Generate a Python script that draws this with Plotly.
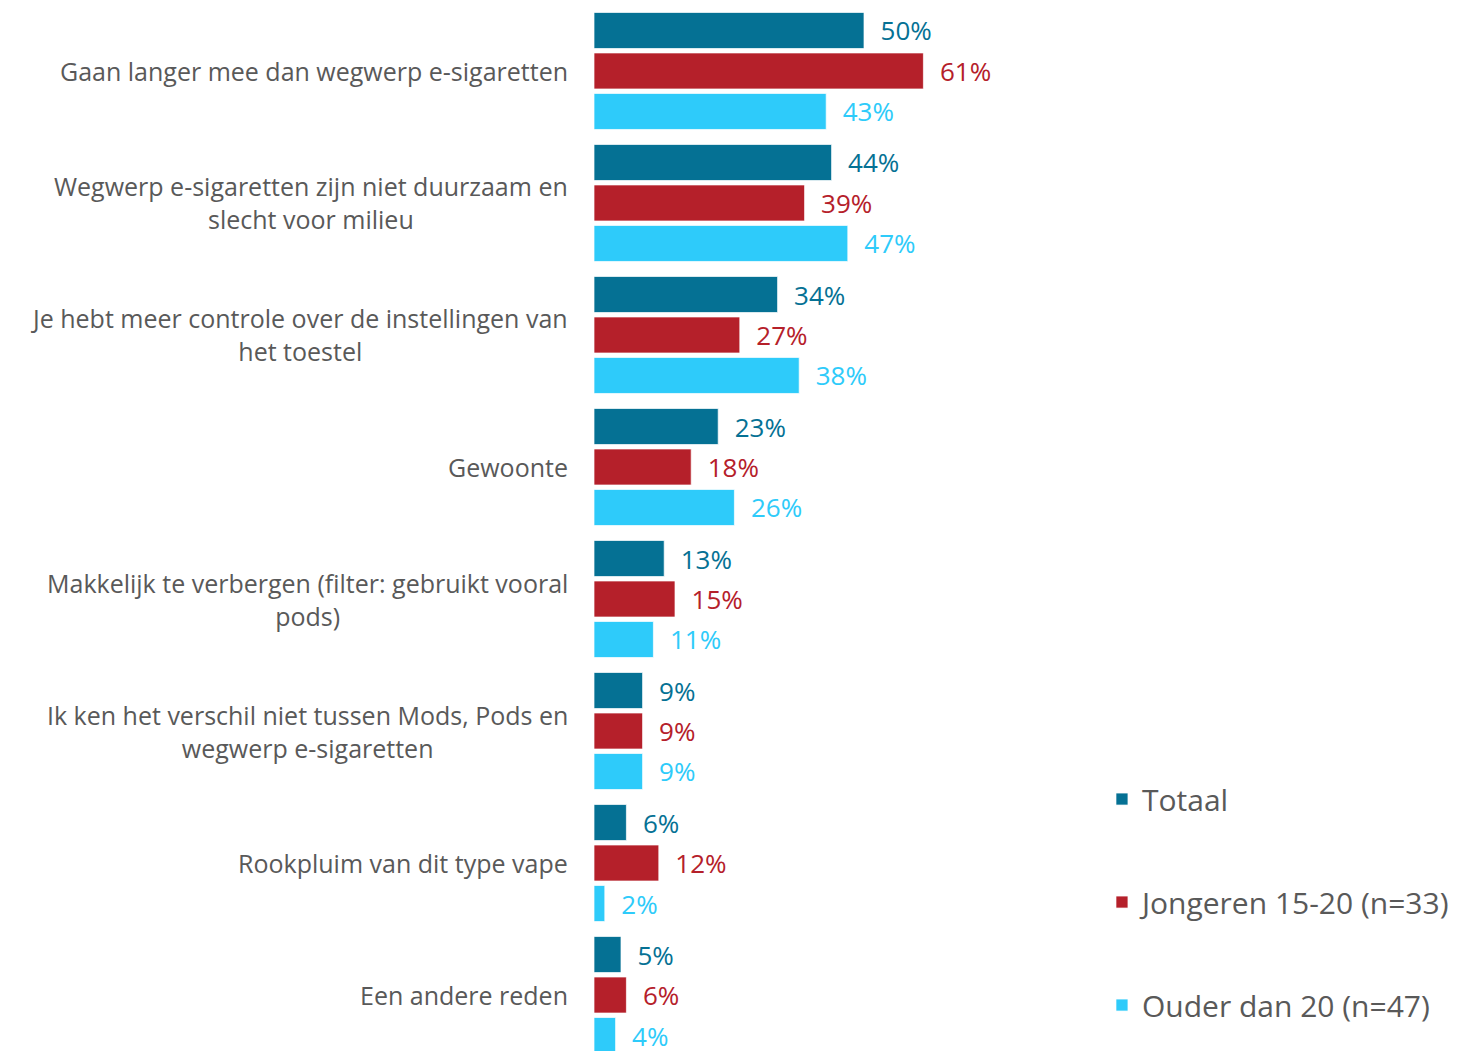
import plotly.graph_objects as go

categories = [
    "Gaan langer mee dan wegwerp e-sigaretten",
    "Wegwerp e-sigaretten zijn niet duurzaam en<br>slecht voor milieu",
    "Je hebt meer controle over de instellingen van<br>het toestel",
    "Gewoonte",
    "Makkelijk te verbergen (filter: gebruikt vooral<br>pods)",
    "Ik ken het verschil niet tussen Mods, Pods en<br>wegwerp e-sigaretten",
    "Rookpluim van dit type vape",
    "Een andere reden",
]
series_names = ["Totaal", "Jongeren 15-20 (n=33)", "Ouder dan 20 (n=47)"]
totaal = [50, 44, 34, 23, 13, 9, 6, 5]
jongeren = [61, 39, 27, 18, 15, 9, 12, 6]
ouder = [43, 47, 38, 26, 11, 9, 2, 4]
colors = ["#057194", "#B5202A", "#2ECBFA"]

FONT = "Open Sans"
positions = list(range(len(categories)))

fig = go.Figure()
for i, (name, vals) in enumerate(zip(series_names, [totaal, jongeren, ouder])):
    fig.add_trace(go.Bar(
        y=positions, x=vals, orientation="h", name=name,
        marker=dict(color=colors[i], line=dict(color="rgba(255,255,255,0.7)", width=1)),
        text=["\u00a0\u00a0" + f"{v}%" for v in vals],
        textposition="outside", constraintext="none", cliponaxis=False,
        textfont=dict(family=FONT, size=26, color=colors[i]),
        legendgroup=name,
    ))

for pos, cat in zip(positions, categories):
    fig.add_annotation(
        x=0, xref="paper", y=pos, yref="y", text=cat, showarrow=False,
        xanchor="right", yanchor="middle", align="center", xshift=-24,
        font=dict(family=FONT, size=25, color="#595959"),
    )

fig.update_layout(
    width=1460, height=1043,
    margin=dict(l=586, r=0, t=0, b=0),
    paper_bgcolor="white", plot_bgcolor="white",
    barmode="group", bargap=0.08, bargroupgap=0.11,
    xaxis=dict(range=[0, 874 / 5.4], visible=False, fixedrange=True),
    yaxis=dict(range=[7.424, -0.477], visible=False),
    showlegend=True,
    legend=dict(
        x=0.5812, xanchor="left", y=0.2665, yanchor="top",
        traceorder="grouped", tracegroupgap=61,
        font=dict(family=FONT, size=30, color="#595959"),
        bgcolor="rgba(0,0,0,0)",
    ),
    font=dict(family=FONT),
)

fig.write_html("out.html")
